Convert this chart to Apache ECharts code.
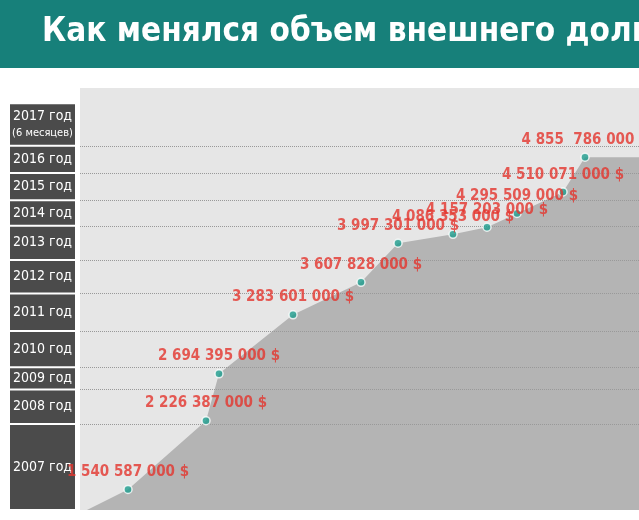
<!DOCTYPE html><html><head><meta charset="utf-8"><script src="https://cdn.jsdelivr.net/npm/echarts@6/dist/echarts.min.js"></script>
<style>body{margin:0}#c{width:639px;height:520px}</style></head><body><div id="c"></div><script>
var years=['2007','2008','2009','2010','2011','2012','2013','2014','2015','2016','2017'];
var period=[128,206,219,293,361,398,453,487,517,563,585];
var debt=[1540587000,2226387000,2694395000,3283601000,3607828000,3997301000,4086353000,4157203000,4295509000,4510071000,4855786000];
var labels=['1 540 587 000 $','2 226 387 000 $','2 694 395 000 $','3 283 601 000 $','3 607 828 000 $','3 997 301 000 $','4 086 353 000 $','4 157 203 000 $','4 295 509 000 $','4 510 071 000 $','4 855  786 000 $'];
var bandEdges=[1.335,2.193,2.537,2.759,3.122,3.496,3.830,4.173,4.426,4.698,4.971,5.395];
var bandNames=['2007 год','2008 год','2009 год','2010 год','2011 год','2012 год','2013 год','2014 год','2015 год','2016 год','2017 год\n{s|(6 месяцев)}'];
var YMIN=1.335,YMAX=5.547;
var font='"Liberation Sans Narrow","DejaVu Sans Condensed",sans-serif';
var pts=debt.map(function(v,i){return [period[i],v/1e9];});
var area=[[80,1.3]].concat(pts).concat([[639,4.856]]);
var c=echarts.init(document.getElementById('c'));
c.setOption({
 backgroundColor:'#fff',animation:false,
 graphic:[{type:'rect',shape:{x:0,y:0,width:639,height:68},style:{fill:'#17807a'}},
  {type:'text',left:42,top:16,style:{text:'Как менялся объем внешнего долга Грузии',fill:'#fff',font:'bold 33px '+font}}],
 grid:[{left:80,right:0,top:88,bottom:10,show:true,backgroundColor:'#e6e6e6',borderWidth:0},
       {left:10,width:65,top:88,bottom:10}],
 xAxis:[{type:'value',min:80,max:639,show:false},{type:'value',min:0,max:1,show:false,gridIndex:1}],
 yAxis:[{type:'value',min:YMIN,max:YMAX,show:false},{type:'value',min:YMIN,max:YMAX,show:false,gridIndex:1}],
 series:[
  {type:'line',data:area,symbol:'none',lineStyle:{width:0},areaStyle:{color:'#b4b4b4',opacity:1},z:2,
   markLine:{silent:true,symbol:'none',label:{show:false},lineStyle:{color:'#999',type:'dotted',width:1},
    data:bandEdges.slice(1,-1).map(function(v){return {yAxis:v};})}},
  {type:'scatter',data:pts,symbolSize:8,itemStyle:{color:'#1e9e8f',borderColor:'#fff',borderWidth:1.5},z:5,
   label:{show:true,position:'top',distance:5,formatter:function(p){return labels[p.dataIndex];},
    color:'#e4342d',fontFamily:font,fontWeight:'bold',fontSize:15}},
  {type:'custom',xAxisIndex:1,yAxisIndex:1,data:bandNames.map(function(n,i){return [i];}),
   renderItem:function(params,api){var i=api.value(0);
    var p0=api.coord([0,bandEdges[i]]),p1=api.coord([1,bandEdges[i+1]]);
    return {type:'group',children:[{type:'rect',shape:{x:p0[0],y:p1[1]+1,width:p1[0]-p0[0],height:p0[1]-p1[1]-2},style:{fill:'#4b4b4b'}},
     {type:'text',style:{text:bandNames[i],x:(p0[0]+p1[0])/2,y:(p0[1]+p1[1])/2,align:'center',verticalAlign:'middle',fill:'#fff',
      font:'14px '+font,lineHeight:17,rich:{s:{fontSize:11,fill:'#fff',fontFamily:font}}}}]};}}
 ]});
</script></body></html>
